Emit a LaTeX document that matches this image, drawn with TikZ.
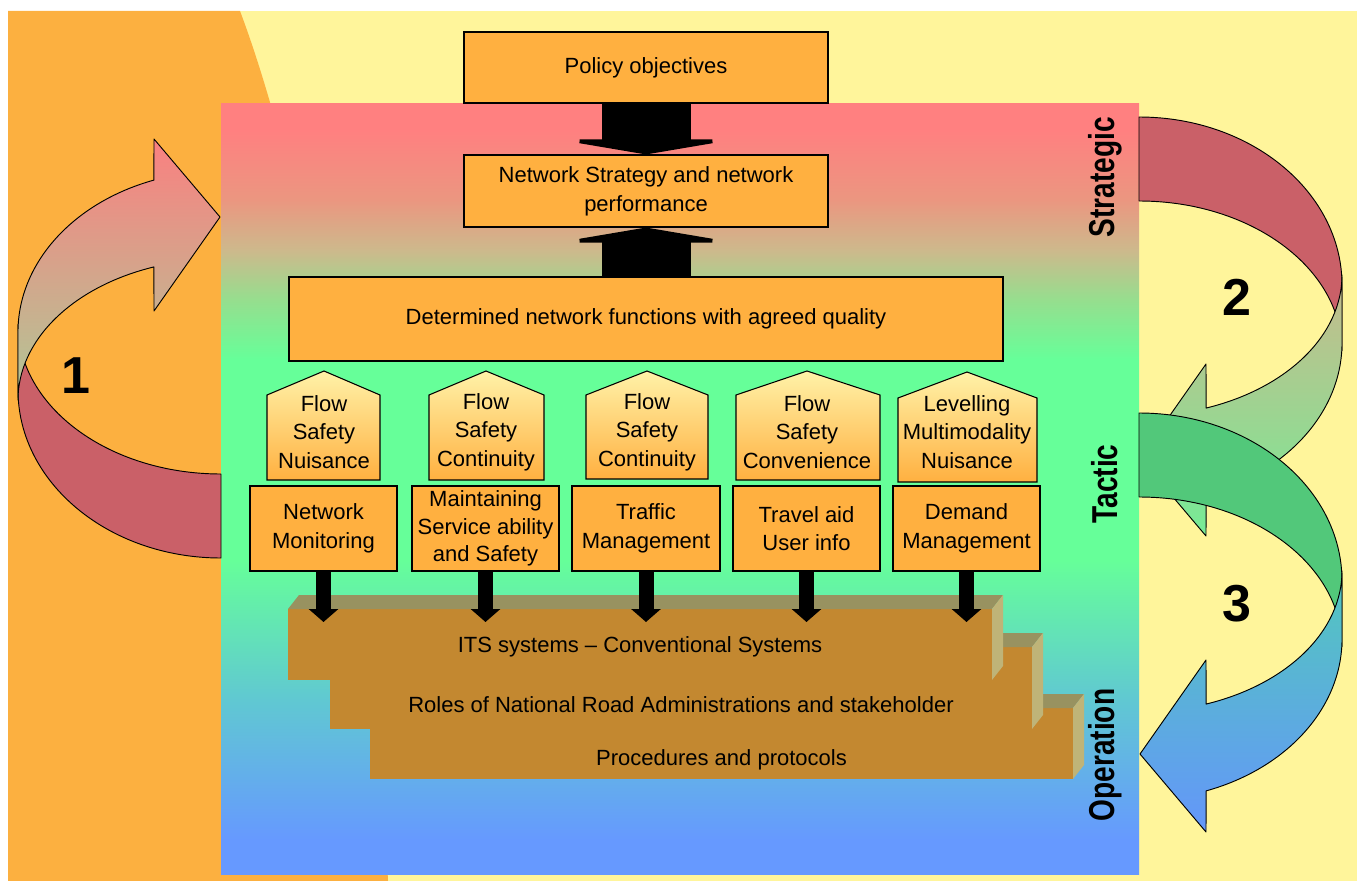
\documentclass[tikz,border=0pt]{standalone}
\usepackage{fontspec}
\setmainfont{Liberation Sans}
\usetikzlibrary{arrows.meta}
\definecolor{bgorange}{RGB}{252,176,64}
\definecolor{bgyellow}{RGB}{255,245,155}
\definecolor{boxorange}{RGB}{255,176,64}
\definecolor{pentop}{RGB}{255,242,168}
\definecolor{pred}{RGB}{255,128,128}
\definecolor{psalmon}{RGB}{235,150,128}
\definecolor{ptan}{RGB}{205,185,140}
\definecolor{pmint}{RGB}{150,222,142}
\definecolor{pgreen}{RGB}{102,255,153}
\definecolor{pteal}{RGB}{96,200,210}
\definecolor{pblue}{RGB}{102,153,255}
\definecolor{backred}{RGB}{202,96,104}
\definecolor{backgreen}{RGB}{82,200,122}
\definecolor{aonetop}{RGB}{250,128,128}
\definecolor{aonebot}{RGB}{176,200,150}
\definecolor{atwotop}{RGB}{200,186,140}
\definecolor{atwobot}{RGB}{118,235,150}
\definecolor{athreetop}{RGB}{82,200,188}
\definecolor{athreebot}{RGB}{100,150,250}
\definecolor{stepfront}{RGB}{195,136,48}
\definecolor{steptop}{RGB}{152,146,96}
\definecolor{stepside}{RGB}{191,180,120}
\pgfdeclareverticalshading{panelshade}{100bp}{color(0bp)=(pblue); color(27.2bp)=(pblue); color(36.3bp)=(pteal); color(45.4bp)=(pgreen); color(58.4bp)=(pgreen); color(62.3bp)=(pmint); color(65.5bp)=(ptan); color(68.8bp)=(psalmon); color(73.3bp)=(pred); color(100bp)=(pred)}
\tikzset{
  arrline/.style={draw=black, line width=0.7pt, line join=round},
  box/.style={draw=black, line width=0.8pt, fill=boxorange, align=center, inner sep=0pt, font=\fontsize{16.5}{21.5}\selectfont},
  ptext/.style={align=center, inner sep=0pt, font=\fontsize{16.5}{21.5}\selectfont},
  steptext/.style={inner sep=0pt, font=\fontsize{16.5}{20}\selectfont},
  levellabel/.style={rotate=90, inner sep=0pt, font=\fontsize{27}{27}\selectfont\bfseries},
  numlabel/.style={inner sep=0pt, font=\fontsize{39}{39}\selectfont\bfseries},
  bigarrow/.style={line width=66.75pt, -{Triangle[width=132.75pt,length=11.25pt]}},
  smallarrow/.style={line width=11.25pt, -{Triangle[width=21.75pt,length=9.75pt]}}
}
\newcommand\pentbox[8]{% name, x1, x2, apex x, apex y, shoulder y, bottom y, text
  \shade[top color=pentop, bottom color=boxorange, draw=black, line width=0.8pt]
    (#2,#7) -- (#2,#6) -- (#4,#5) -- (#3,#6) -- (#3,#7) -- cycle;
  \node[ptext] (#1) at (#4,432) {#8};
}
\newcommand\stairstep[7]{% name, xl, xr, yt, yb, text y, text
  \fill[stepfront] (#2,#4) rectangle (#3,#5);
  \fill[steptop] (#2,#4) -- (#2+11,#4-14) -- (#3+11,#4-14) -- (#3,#4) -- cycle;
  \fill[stepside] (#3,#4) -- (#3+11,#4-14) -- (#3+11,#5-14) -- (#3,#5) -- cycle;
  \node[steptext] (#1) at ({(#2+#3)/2},#6) {#7};
}
\begin{document}
\begin{tikzpicture}[x=0.75pt,y=-0.75pt]
\useasboundingbox (0,0) rectangle (1357,881);
\fill[white] (0,0) rectangle (1357,881);
\fill[bgyellow] (8,11) rectangle (1357,881);
\fill[bgorange] (8,11) -- (240,11) .. controls (300,170) and (370,500) .. (388,881) -- (8,881) -- cycle;
\shade[shading=panelshade] (221,104) rectangle (1139,874);

% curved arrow 1
\filldraw[arrline, fill=backred] (18,390) arc[start angle=180, end angle=90, x radius=203, y radius=168]
  -- (221,474) arc[start angle=90, end angle=180, x radius=203, y radius=150] -- cycle;
\shadedraw[arrline, top color=aonetop, bottom color=aonebot] (153.9,180.1)
  arc[start angle=250.7, end angle=180, x radius=203, y radius=161]
  -- (18,400) arc[start angle=180, end angle=250.7, x radius=203, y radius=141]
  -- (154,311) -- (220,217) -- (154,139) -- cycle;
% curved arrow 2
\filldraw[arrline, fill=backred] (1342,285) arc[start angle=0, end angle=-90, x radius=203, y radius=168]
  -- (1139,201) arc[start angle=-90, end angle=0, x radius=203, y radius=150] -- cycle;
\shadedraw[arrline, top color=atwotop, bottom color=atwobot] (1206.1,494.9)
  arc[start angle=70.7, end angle=0, x radius=203, y radius=161]
  -- (1342,275) arc[start angle=0, end angle=70.7, x radius=203, y radius=141]
  -- (1206,364) -- (1140,458) -- (1206,536) -- cycle;
% curved arrow 3
\filldraw[arrline, fill=backgreen] (1342,581) arc[start angle=0, end angle=-90, x radius=203, y radius=168]
  -- (1139,497) arc[start angle=-90, end angle=0, x radius=203, y radius=150] -- cycle;
\shadedraw[arrline, top color=athreetop, bottom color=athreebot] (1206.1,790.9)
  arc[start angle=70.7, end angle=0, x radius=203, y radius=161]
  -- (1342,571) arc[start angle=0, end angle=70.7, x radius=203, y radius=141]
  -- (1206,660) -- (1140,754) -- (1206,832) -- cycle;

\node[numlabel] (n1) at (76,376) {1};
\node[numlabel] (n2) at (1237,297) {2};
\node[numlabel] (n3) at (1237,604) {3};

\node[levellabel] (lstrat) at (1105,177) {\scalebox{0.78}[1]{Strategic}};
\node[levellabel] (ltact) at (1105,484) {\scalebox{0.78}[1]{Tactic}};
\node[levellabel] (loper) at (1105,755) {\scalebox{0.78}[1]{Operation}};

% top boxes
\node[box, minimum width=273pt, minimum height=53.25pt] (pol) at (646,67.5) {Policy objectives};
\node[box, minimum width=273pt, minimum height=54pt] (strat) at (646,191) {Network Strategy and network\\performance};
\node[box, minimum width=535.5pt, minimum height=63pt] (det) at (646,319) {Determined network functions with agreed quality};
\draw[bigarrow] (pol.south) -- (strat.north);
\draw[bigarrow] (det.north) -- (strat.south);

% pentagons
\pentbox{p1}{267}{380}{324}{371}{395}{480}{Flow\\Safety\\Nuisance}
\pentbox{p2}{429}{544}{486}{371}{395}{480}{Flow\\Safety\\Continuity}
\pentbox{p3}{586}{708}{647}{371}{395}{479}{Flow\\Safety\\Continuity}
\pentbox{p4}{736}{880}{807}{371}{395}{480}{Flow\\Safety\\Convenience}
\pentbox{p5}{898}{1037}{967}{372}{398}{482}{Levelling\\Multimodality\\Nuisance}

% function boxes
\node[box, minimum width=110.25pt, minimum height=63.75pt] (r1) at (323.5,528.5) {Network\\Monitoring};
\node[box, minimum width=110.25pt, minimum height=63.75pt, font=\fontsize{16.5}{20.5}\selectfont] (r2) at (485.5,528.5) {Maintaining\\Service ability\\and Safety};
\node[box, minimum width=111pt, minimum height=63.75pt] (r3) at (646,528.5) {Traffic\\Management};
\node[box, minimum width=110.25pt, minimum height=63.75pt] (r4) at (806.5,528.5) {Travel aid\\User info};
\node[box, minimum width=110.25pt, minimum height=63.75pt] (r5) at (966.5,528.5) {Demand\\Management};

% stairs
\stairstep{s3}{370}{1073}{708}{779}{760}{Procedures and protocols}
\stairstep{s2}{330}{1032}{647}{729}{705}{Roles of National Road Administrations and stakeholder}
\stairstep{s1}{288}{992}{609}{680}{647}{ITS systems – Conventional Systems}
\coordinate (stairtop) at (640,622);

\foreach \r in {r1,r2,r3,r4,r5}{
  \draw[smallarrow] (\r.south) -- (\r.south |- stairtop);
}
\end{tikzpicture}
\end{document}
